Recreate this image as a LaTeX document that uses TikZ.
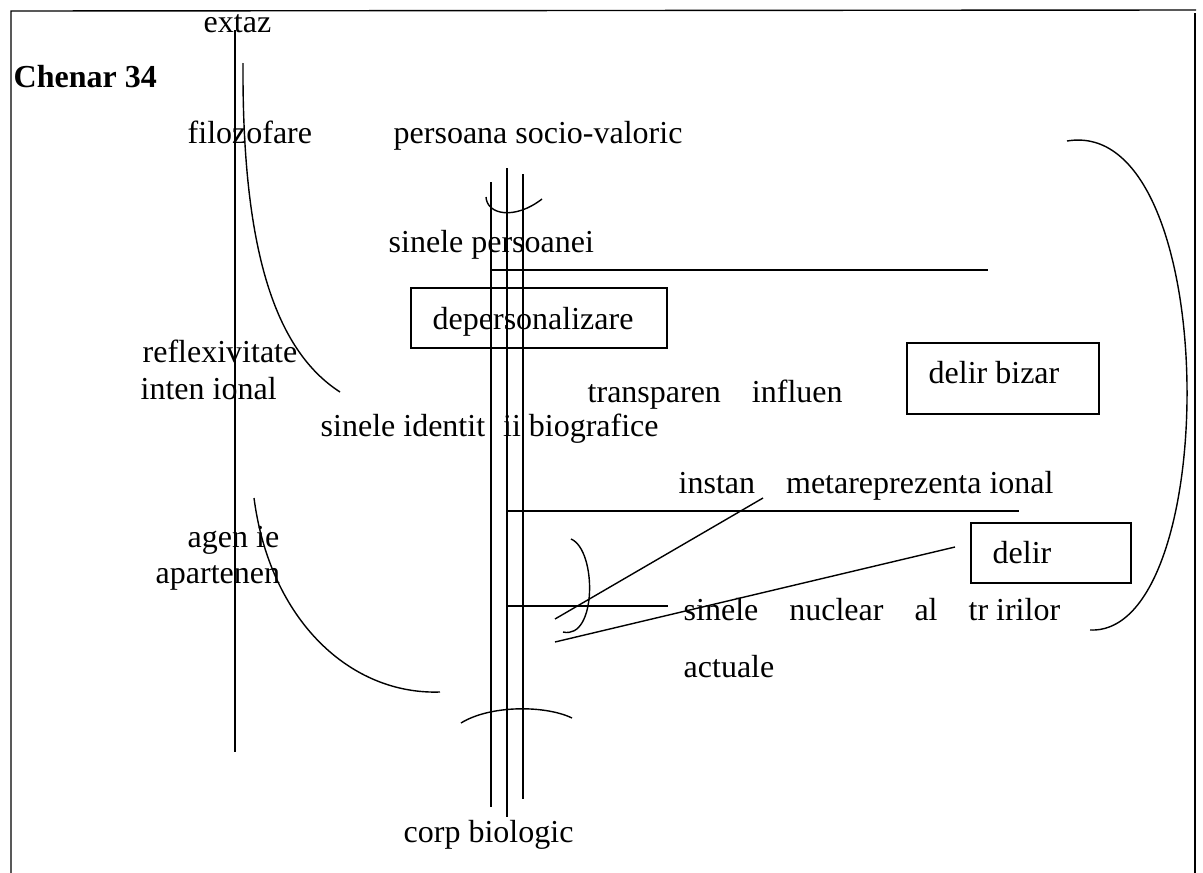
\documentclass[tikz,border=0pt]{standalone}
\usepackage{fontspec}
\setmainfont{Liberation Serif}
\usepackage{tikz}
\newcommand{\wgap}{\hspace{31pt}}

\begin{document}
\begin{tikzpicture}[x=1pt,y=-1pt,line width=1.4pt,
  lbl/.style={anchor=base west,inner sep=0pt,font=\fontsize{32}{38}\selectfont}]
  \useasboundingbox (0,0) rectangle (1203,873);
  % frame, open at the bottom
  \draw (11,873) -- (11,11) -- (1196,10);
  \draw (1195,13) -- (1195,873);
  % left axis with its two arcs
  \draw (235,30) -- (235,752);
  \draw (243,63) .. controls (242,250) and (275,350) .. (340,392);
  \draw (254,498) .. controls (270,620) and (350,695) .. (440,692);
  % the three strands in the middle
  \draw (491,182) -- (491,807);
  \draw (507,168) -- (507,817);
  \draw (523,174) -- (523,799);
  \draw (486,197) .. controls (487,215) and (515,220) .. (542,199);
  \draw (461,723) .. controls (490,705) and (545,705) .. (572,718);
  % branches
  \draw (491,270) -- (988,270);
  \draw (507,511) -- (1019,511);
  \draw (507,606) -- (668,606);
  \draw (555,619) -- (763,498);
  \draw (555,642) -- (955,547);
  \draw (571,539) .. controls (597,550) and (597,640) .. (563,632);
  \draw (1067,141) .. controls (1223,115) and (1223,636) .. (1090,630);
  % boxes
  \draw (411,288) rectangle (667,348);
  \draw (907,343) rectangle (1099,414);
  \draw (971,523) rectangle (1131,583);
  % labels
  \node[lbl] (extaz) at (203,32) {extaz};
  \node[lbl,font=\fontsize{32}{38}\selectfont\bfseries] (chenar) at (13,87) {Chenar 34};
  \node[lbl] (filoz) at (187,143) {filozofare};
  \node[lbl] (socval) at (393,143) {persoana socio-valoric};
  \node[lbl] (sinpers) at (388,252) {sinele persoanei};
  \node[lbl] (depers) at (432,329) {depersonalizare};
  \node[lbl] (reflex) at (142,362) {reflexivitate};
  \node[lbl] (intent) at (140,399) {inten ional};
  \node[lbl] (transp) at (587,402) {transparen\wgap influen};
  \node[lbl] (bizar) at (928,383) {delir bizar};
  \node[lbl] (ident) at (320,436) {sinele identit\hspace{18pt}ii biografice};
  \node[lbl] (meta) at (678,493) {instan\wgap metareprezenta ional};
  \node[lbl] (delir) at (992,563) {delir};
  \node[lbl] (agent) at (187,547) {agen ie};
  \node[lbl] (apart) at (155,583) {apartenen};
  \node[lbl] (nucl) at (683,620) {sinele\wgap nuclear\wgap al\wgap tr irilor};
  \node[lbl] (actual) at (683,677) {actuale};
  \node[lbl] (corp) at (403,842) {corp biologic};
\end{tikzpicture}
\end{document}
